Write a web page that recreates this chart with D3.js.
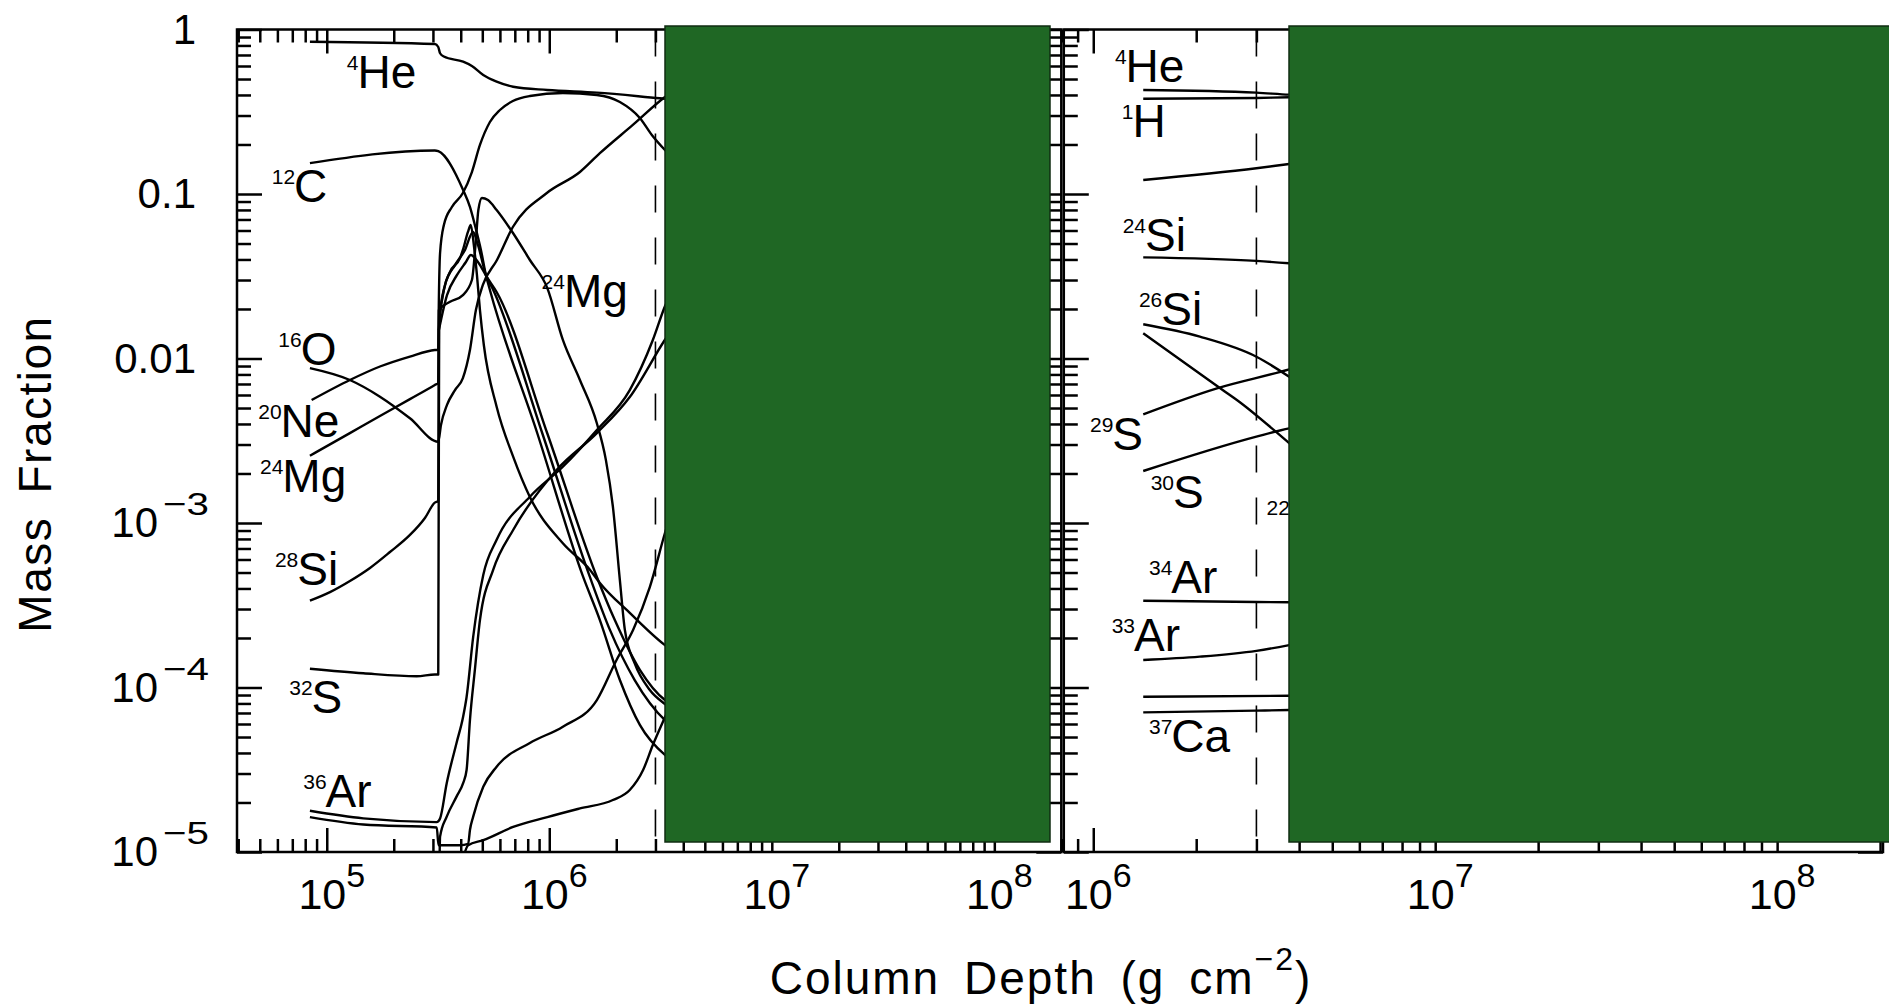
<!DOCTYPE html>
<html>
<head>
<meta charset="utf-8">
<script src="https://cdn.jsdelivr.net/npm/d3@7"></script>
<style>
body { margin: 0; background: #fff; overflow: hidden; }
svg { display: block; font-family: "Liberation Sans", Arial, Helvetica, sans-serif; }
.frame { fill: none; stroke: #000; stroke-width: 2.5; }
.tick line { stroke: #000; stroke-width: 2.5; }
.curve { fill: none; stroke: #000; stroke-width: 2.4; stroke-linejoin: round; }
.cut { stroke: #000; stroke-width: 1.6; stroke-dasharray: 27 25; }
.mask { fill: #1f6724; stroke: #112d12; stroke-width: 1.5; }
</style>
</head>
<body>
<svg id="chart" width="1889" height="1004"></svg>
<script>
// column depth (g cm^-2), mass fraction

// left panel
var he4Left = [[8.4e4,0.843],[3.06e5,0.816],[3.17e5,0.783],[3.23e5,0.717],[3.36e5,0.685],[4.1e5,0.637],[4.49e5,0.6],[5.05e5,0.529],[5.8e5,0.482],[6.88e5,0.449],[9.8e5,0.429],[1.636e6,0.413],[3.14e6,0.382],[3.67e6,0.375]];
var c12Left = [[8.4e4,0.154],[3.06e5,0.184],[3.17e5,0.182],[4.1e5,0.1057],[4.4e5,0.0834],[4.63e5,0.0648],[4.93e5,0.0457],[5.19e5,0.0322],[5.41e5,0.0261],[8.84e5,0.0035],[1.42e6,4.7e-4],[1.688e6,2.57e-4],[2.076e6,1.11e-4],[2.553e6,5.92e-5],[3.31e6,3.89e-5],[3.67e6,3.52e-5]];
var o16Left = [[8.4e4,0.00874],[1.27e5,0.0074],[1.734e5,0.00586],[2.365e5,0.00433],[3.17e5,0.00312],[3.26e5,0.00394],[3.47e5,0.00522],[3.77e5,0.00643],[4.09e5,0.0076],[4.4e5,0.01126],[4.68e5,0.0197],[5.03e5,0.028],[5.82e5,0.0397],[6.86e5,0.063],[9.75e5,0.1014],[1.373e6,0.136],[1.688e6,0.177],[2.374e6,0.263],[3.31e6,0.389],[3.67e6,0.429]];
var ne20Left = [[8.55e4,0.00559],[1.27e5,0.0074],[1.734e5,0.00894],[2.365e5,0.01028],[3.06e5,0.01126],[3.17e5,0.0113],[3.19e5,0.0227],[3.23e5,0.0438],[3.36e5,0.0648],[3.65e5,0.0834],[4.09e5,0.1014],[4.49e5,0.136],[4.88e5,0.1986],[5.41e5,0.274],[6.0e5,0.324],[6.86e5,0.3675],[8.18e5,0.394],[1.151e6,0.411],[1.636e6,0.3997],[2.076e6,0.3625],[2.553e6,0.2897],[2.89e6,0.2284],[3.31e6,0.1851],[3.67e6,0.1609]];
var mg24Left = [[8.4e4,0.002565],[1.27e5,0.00352],[1.734e5,0.00447],[2.365e5,0.00566],[3.06e5,0.0069],[3.17e5,0.0071],[3.19e5,0.0197],[3.58e5,0.0221],[4.09e5,0.0243],[4.49e5,0.03],[4.68e5,0.0525],[4.8e5,0.0799],[4.98e5,0.0946],[5.3e5,0.0919],[5.8e5,0.0799],[6.88e5,0.0577],[8.18e5,0.0397],[9.8e5,0.0268],[1.151e6,0.01296],[1.373e6,0.0074],[1.636e6,0.00404],[1.796e6,0.00242],[1.931e6,0.00126],[2.076e6,4.5e-4],[2.186e6,2.24e-4],[2.42e6,1.4e-4],[2.83e6,9.66e-5],[3.31e6,7.94e-5],[3.67e6,7.2e-5]];
var si28Left = [[8.4e4,3.37e-4],[1.034e5,3.8e-4],[1.271e5,4.44e-4],[1.564e5,5.33e-4],[1.923e5,6.66e-4],[2.365e5,8.46e-4],[2.762e5,1.073e-3],[3.06e5,0.00133],[3.17e5,0.00136],[3.19e5,0.0149],[3.36e5,0.0261],[3.58e5,0.0336],[3.97e5,0.0408],[4.09e5,0.0457],[4.31e5,0.0588],[4.44e5,0.0648],[4.58e5,0.049],[4.73e5,0.0322],[4.88e5,0.0197],[5.08e5,0.01208],[5.8e5,0.00509],[6.88e5,0.00253],[8.18e5,0.00144],[1.151e6,7.53e-4],[1.522e6,5.2e-4],[1.688e6,4.32e-4],[2.3e6,2.84e-4],[3.31e6,1.81e-4],[3.67e6,1.64e-4]];
var s32Left = [[8.4e4,1.3e-4],[1.459e5,1.22e-4],[2.534e5,1.17e-4],[3.06e5,1.2e-4],[3.17e5,1.2e-4],[3.2e5,0.0171],[3.4e5,0.028],[3.77e5,0.037],[4.18e5,0.0457],[4.54e5,0.0588],[4.78e5,0.049],[5.19e5,0.0322],[5.6e5,0.0261],[9.31e5,0.0035],[1.522e6,4.7e-4],[1.873e6,2.24e-4],[2.42e6,1.11e-4],[3.31e6,6.34e-5],[3.67e6,5.67e-5]];
var ar36aLeft = [[8.4e4,1.78e-5],[1.459e5,1.6e-5],[3.12e5,1.52e-5],[3.23e5,1.6e-5],[3.46e5,2.62e-5],[3.83e5,4.6e-5],[4.1e5,6.64e-5],[4.25e5,8.76e-5],[4.55e5,2.03e-4],[5.05e5,4.83e-4],[5.8e5,7.9e-4],[8.18e5,1.445e-3],[1.151e6,2.2e-3],[1.636e6,3.67e-3],[2.3e6,6.43e-3],[2.92e6,0.01296],[3.31e6,0.0208],[3.67e6,0.028]];
var ar36bLeft = [[8.4e4,1.63e-5],[1.459e5,1.47e-5],[3.12e5,1.41e-5],[3.18e5,1.1e-5],[3.97e5,1.1e-5],[4.32e5,1.12e-5],[4.4e5,1.36e-5],[4.55e5,1.64e-5],[5.05e5,2.49e-5],[5.8e5,3.3e-5],[8.18e5,4.6e-5],[1.151e6,5.78e-5],[1.636e6,8.39e-5],[2.006e6,1.47e-4],[2.38e6,2.24e-4],[2.83e6,4.08e-4],[3.31e6,8.69e-4],[3.67e6,1.38e-3]];
var otherALeft = [[3.19e5,0.0149],[3.47e5,0.0243],[3.85e5,0.0322],[4.22e5,0.0386],[4.44e5,0.0426],[4.78e5,0.0386],[5.24e5,0.0313],[5.8e5,0.02537],[9.8e5,0.0035],[1.636e6,4.7e-4],[1.97e6,2.57e-4],[2.553e6,1.28e-4],[3.31e6,8.39e-5],[3.67e6,7.72e-5]];
var otherBLeft = [[3.2e5,6e-6],[3.23e5,1.24e-5],[3.46e5,1.64e-5],[3.83e5,2.17e-5],[4.1e5,2.62e-5],[4.25e5,3.15e-5],[4.4e5,6.34e-5],[4.63e5,1.28e-4],[4.88e5,2.57e-4],[5.6e5,5.2e-4],[6.88e5,9.07e-4],[1.079e6,2.1e-3],[1.636e6,3.52e-3],[2.3e6,5.83e-3],[3.31e6,0.013],[3.67e6,0.016]];
var otherCLeft = [[4.0e5,8e-6],[4.32e5,1.1e-5],[5.05e5,1.18e-5],[6.88e5,1.42e-5],[9.8e5,1.63e-5],[1.373e6,1.84e-5],[1.931e6,2.07e-5],[2.3e6,2.38e-5],[2.64e6,3.15e-5],[2.92e6,4.47e-5],[3.31e6,6.6e-5],[3.67e6,9.0e-5]];

// right panel
var he4Right = [[1.4e6,0.4288],[3.0e6,0.413],[3.74e6,0.4016],[4.1e6,0.399]];
var h1Right = [[1.4e6,0.3796],[3.0e6,0.3835],[3.74e6,0.387],[4.1e6,0.388]];
var topRight = [[1.4e6,0.1217],[3.0e6,0.1433],[3.74e6,0.1522],[4.1e6,0.156]];
var si24Right = [[1.4e6,0.0412],[3.0e6,0.0392],[3.74e6,0.0379],[4.1e6,0.0373]];
var si26Right = [[1.4e6,0.01614],[2.05e6,0.01357],[3.0e6,0.01025],[3.74e6,0.00775],[4.1e6,0.0068]];
var si26bRight = [[1.4e6,0.01423],[2.39e6,0.00644],[2.63e6,0.0056],[3.74e6,0.00306],[4.1e6,0.0026]];
var s29Right = [[1.4e6,0.00458],[2.3e6,0.00659],[3.74e6,0.00859],[4.1e6,0.0091]];
var s30Right = [[1.4e6,0.00207],[3.0e6,0.00335],[3.74e6,0.00376],[4.1e6,0.0039]];
var ar34Right = [[1.4e6,3.37e-4],[3.0e6,3.31e-4],[3.74e6,3.3e-4],[4.1e6,3.3e-4]];
var ar33Right = [[1.4e6,1.47e-4],[2.05e6,1.54e-4],[3.0e6,1.67e-4],[3.74e6,1.81e-4],[4.1e6,1.88e-4]];
var lowRight = [[1.4e6,8.79e-5],[3.74e6,8.91e-5],[4.1e6,8.93e-5]];
var ca37Right = [[1.4e6,7.06e-5],[3.0e6,7.23e-5],[3.74e6,7.3e-5],[4.1e6,7.32e-5]];

var leftSeries = [he4Left, c12Left, o16Left, ne20Left, mg24Left, si28Left, s32Left, ar36aLeft, ar36bLeft, otherALeft, otherBLeft, otherCLeft];
var rightSeries = [he4Right, h1Right, topRight, si24Right, si26Right, si26bRight, s29Right, s30Right, ar34Right, ar33Right, lowRight, ca37Right];

// curve labels: mass number, element, anchored at [depth, fraction]
var leftTags = [
  {a:"4", el:"He", at:[1.23e5,0.439]},
  {a:"12", el:"C", at:[5.66e4,0.0898]},
  {a:"24", el:"Mg", at:[9.23e5,0.02065]},
  {a:"16", el:"O", at:[6.06e4,0.00913]},
  {a:"20", el:"Ne", at:[4.92e4,0.003346]},
  {a:"24", el:"Mg", at:[5.01e4,0.001543]},
  {a:"28", el:"Si", at:[5.85e4,4.2e-4]},
  {a:"32", el:"S", at:[6.78e4,6.97e-5]},
  {a:"36", el:"Ar", at:[7.84e4,1.885e-5]}
];
var rightTags = [
  {a:"4", el:"He", at:[1.157e6,0.4817]},
  {a:"1", el:"H", at:[1.211e6,0.223]},
  {a:"24", el:"Si", at:[1.219e6,0.04521]},
  {a:"26", el:"Si", at:[1.36e6,0.01598]},
  {a:"29", el:"S", at:[9.78e5,0.002779]},
  {a:"30", el:"S", at:[1.472e6,0.001229]},
  {a:"22", el:"Mg", at:[3.21e6,8.69e-4]},
  {a:"34", el:"Ar", at:[1.455e6,3.77e-4]},
  {a:"33", el:"Ar", at:[1.132e6,1.674e-4]},
  {a:"37", el:"Ca", at:[1.455e6,4.07e-5]}
];

var leftDecades = [1e5, 1e6, 1e7, 1e8];
var rightDecades = [1e6, 1e7, 1e8];
var yLabels = [[1,"1",""],[0.1,"0.1",""],[0.01,"0.01",""],[1e-3,"10","\u22123"],[1e-4,"10","\u22124"],[1e-5,"10","\u22125"]];
var switchDepth = 3e6;

// layout
var svg = d3.select("#chart");
var yTop = 29.5, yBot = 852;
var y = d3.scaleLog().domain([1e-5, 1]).range([yBot, yTop]);

var panels = [
  {id:"L", x0:237, x1:1061.3, domain:[3.95e4, 2e8], series:leftSeries, tags:leftTags, decades:leftDecades},
  {id:"R", x0:1063.8, x1:1883, domain:[8.2e5, 2.04e8], series:rightSeries, tags:rightTags, decades:rightDecades}
];

function isDecade(v) { var l = Math.log10(v); return Math.abs(l - Math.round(l)) < 1e-6; }

function tickSet(sel, axis, vals, size) {
  sel.call(axis.tickValues(vals).tickSize(size).tickSizeOuter(0).tickFormat(function() { return ""; }));
  sel.select(".domain").remove();
}

var yt = y.ticks();
var yMinor = yt.filter(function(v) { return !isDecade(v); });
var yMajor = yt.filter(isDecade);

panels.forEach(function(p) {
  var x = d3.scaleLog().domain(p.domain).range([p.x0, p.x1]);
  var g = svg.append("g");

  svg.append("clipPath").attr("id", "clip" + p.id).append("rect")
    .attr("x", p.x0).attr("y", yTop).attr("width", p.x1 - p.x0).attr("height", yBot - yTop);

  var line = d3.line().x(function(d) { return x(d[0]); }).y(function(d) { return y(d[1]); })
    .curve(d3.curveMonotoneX);

  var plot = g.append("g").attr("clip-path", "url(#clip" + p.id + ")");
  plot.append("line").attr("class", "cut")
    .attr("x1", x(switchDepth)).attr("x2", x(switchDepth)).attr("y1", yTop).attr("y2", yBot);
  plot.selectAll("path.curve").data(p.series).join("path")
    .attr("class", "curve").attr("d", line);

  var xt = x.ticks();
  var xMinor = xt.filter(function(v) { return !isDecade(v); });
  var xMajor = xt.filter(isDecade);
  [[xMinor, 13], [xMajor, 24]].forEach(function(s) {
    tickSet(g.append("g").attr("transform", "translate(0," + yBot + ")"), d3.axisTop(x), s[0], s[1]);
    tickSet(g.append("g").attr("transform", "translate(0," + yTop + ")"), d3.axisBottom(x), s[0], s[1]);
  });
  [[yMinor, 14], [yMajor, 25]].forEach(function(s) {
    tickSet(g.append("g").attr("transform", "translate(" + p.x0 + ",0)"), d3.axisRight(y), s[0], s[1]);
    tickSet(g.append("g").attr("transform", "translate(" + p.x1 + ",0)"), d3.axisLeft(y), s[0], s[1]);
  });
  g.append("rect").attr("class", "frame")
    .attr("x", p.x0).attr("y", yTop).attr("width", p.x1 - p.x0).attr("height", yBot - yTop);

  // x tick labels
  p.decades.forEach(function(v) {
    var t = svg.append("text").attr("x", x(v) + 5).attr("y", 909)
      .attr("text-anchor", "middle").attr("font-size", 43);
    t.append("tspan").text("10");
    t.append("tspan").attr("font-size", 34).attr("dy", -22).text(Math.round(Math.log10(v)));
  });

  // isotope labels
  p.tags.forEach(function(tag) {
    var t = svg.append("text").attr("x", x(tag.at[0])).attr("y", y(tag.at[1])).attr("font-size", 46);
    t.append("tspan").attr("font-size", 21).attr("dy", -18).text(tag.a);
    t.append("tspan").attr("dy", 18).attr("dx", -1).text(tag.el);
  });
});

// y tick labels
yLabels.forEach(function(d) {
  if (!d[2]) {
    svg.append("text").attr("x", 196).attr("y", y(d[0]) + 14)
      .attr("text-anchor", "end").attr("font-size", 42).text(d[1]);
  } else {
    svg.append("text").attr("x", 158).attr("y", y(d[0]) + 14)
      .attr("text-anchor", "end").attr("font-size", 42).text(d[1]);
    svg.append("text").attr("x", 163).attr("y", y(d[0]) - 8)
      .attr("font-size", 32).attr("textLength", 46).attr("lengthAdjust", "spacingAndGlyphs").text(d[2]);
  }
});

// axis titles
var xt = svg.append("text").attr("x", 1041).attr("y", 994).attr("text-anchor", "middle")
  .attr("font-size", 46).attr("letter-spacing", 2).attr("word-spacing", 9);
xt.append("tspan").text("Column Depth (g cm");
xt.append("tspan").attr("font-size", 32).attr("dy", -24).text("\u22122");
xt.append("tspan").attr("dy", 24).text(")");

svg.append("text").attr("transform", "translate(51,474) rotate(-90)")
  .attr("text-anchor", "middle").attr("font-size", 46)
  .attr("letter-spacing", 1.5).attr("word-spacing", 9).text("Mass Fraction");

// green cover blocks
svg.append("rect").attr("class", "mask").attr("x", 665).attr("y", 26).attr("width", 385).attr("height", 816);
svg.append("rect").attr("class", "mask").attr("x", 1289).attr("y", 26).attr("width", 610).attr("height", 816);
</script>
</body>
</html>
